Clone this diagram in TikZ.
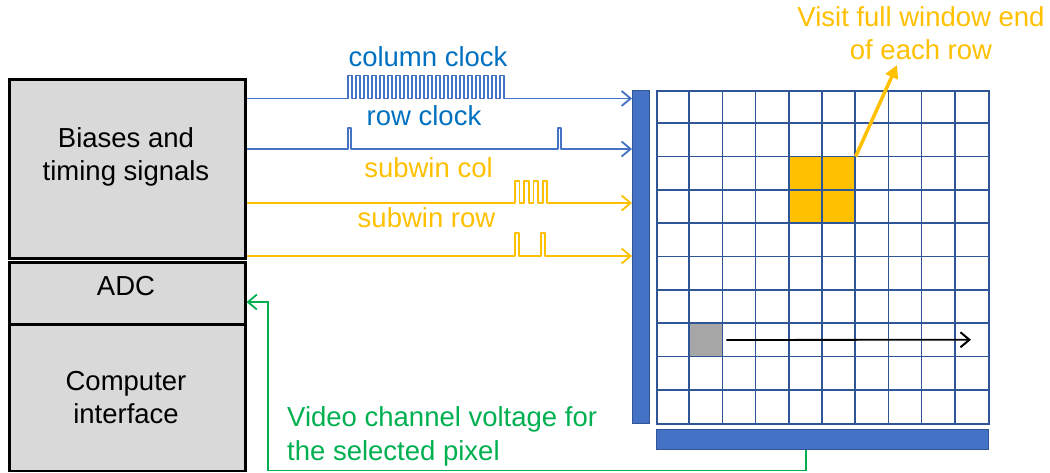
\documentclass[tikz,border=0pt]{standalone}
\usepackage{fontspec}
\setmainfont{Liberation Sans}
\usetikzlibrary{arrows.meta}
\definecolor{sigblue}{HTML}{4472C4}
\definecolor{txtblue}{HTML}{0070C0}
\definecolor{gold}{HTML}{FFC000}
\definecolor{vgreen}{HTML}{00B050}
\definecolor{gridblue}{HTML}{2F5597}
\definecolor{boxgray}{HTML}{D9D9D9}
\definecolor{cellgray}{HTML}{A6A6A6}
\begin{document}
\begin{tikzpicture}[x=1pt,y=-1pt,
  lbl/.style={font=\fontsize{27.5}{33}\selectfont, inner sep=0pt},
  box/.style={draw=black, line width=2.5pt, fill=boxgray, inner sep=0pt, anchor=north west},
  bar/.style={draw=gridblue, line width=1pt, fill=sigblue, inner sep=0pt, anchor=north west},
  cell/.style={inner sep=0pt, anchor=north west, minimum width=33.2pt, minimum height=33.3pt},
  sig/.style={line width=1.8pt, line join=round, -{Straight Barb[length=9pt,width=15pt,line width=1.8pt]}},
  gridline/.style={draw=gridblue, line width=1.7pt},
  scan/.style={line width=1.8pt, -{Straight Barb[length=9pt,width=15pt,line width=2pt]}},
  vid/.style={draw=vgreen, line width=1.6pt, -{Straight Barb[length=9pt,width=15pt,line width=1.8pt]}},
  note/.style={draw=gold, line width=3.5pt, -{Triangle[length=13pt,width=13pt]}},
]
\useasboundingbox (0,0) rectangle (1050,472);

% left blocks
\node[box, minimum width=236pt, minimum height=179pt] (bias) at (8,78) {};
\node[box, minimum width=236pt, minimum height=62pt] (adc) at (8,261) {};
\node[box, minimum width=236pt, minimum height=146.5pt] (comp) at (8,323) {};
\node[lbl, align=center, anchor=north] (biastxt) at (126,127) {Biases and\\timing signals};
\node[lbl, anchor=base] (adctxt) at (126,295) {ADC};
\node[lbl, align=center, anchor=north] (comptxt) at (126,371) {Computer\\interface};

% pixel array
\node[bar, minimum width=17pt, minimum height=333pt] (lbar) at (632,90) {};
\node[bar, minimum width=332pt, minimum height=20pt] (bbar) at (656,429) {};
\node[inner sep=0pt, anchor=north west, minimum width=66.4pt, minimum height=66.6pt, fill=gold] (win) at (788.8,156.6) {};
\node[cell, fill=cellgray] (px) at (689.2,323.1) {};
\foreach \i in {1,...,9} {
  \draw[gridline] (656+\i*33.2,90) -- ++(0,333);
  \draw[gridline] (656,90+\i*33.3) -- ++(332,0);
}
\node[draw=gridblue, line width=1.7pt, inner sep=0pt, anchor=north west, minimum width=332pt, minimum height=333pt] (array) at (656,90) {};

% scan arrow
\coordinate (scanend) at (971,339.75);
\draw[scan] ([xshift=3.6pt]px.east) -- (scanend);

% signals
\draw[sig, draw=sigblue] (bias.east |- 0,98.5) -- (348,98.5)
  \foreach \i in {1,...,20} { -- ++(0,-23) -- ++(4,0) -- ++(0,23) -- ++(4,0) }
  -- (lbar.west |- 0,98.5);
\draw[sig, draw=sigblue] (bias.east |- 0,149) -- (348,149) -- ++(0,-21) -- ++(3,0) -- ++(0,21)
  -- (558,149) -- ++(0,-21) -- ++(3,0) -- ++(0,21) -- (lbar.west |- 0,149);
\draw[sig, draw=gold] (bias.east |- 0,203) -- (515,203)
  \foreach \i in {1,...,4} { -- ++(0,-22) -- ++(4.5,0) -- ++(0,22) -- ++(4.75,0) }
  -- (lbar.west |- 0,203);
\draw[sig, draw=gold] (bias.east |- 0,256) -- (515,256) -- ++(0,-23) -- ++(4,0) -- ++(0,23)
  -- (541,256) -- ++(0,-23) -- ++(4,0) -- ++(0,23) -- (lbar.west |- 0,256);

\node[lbl, anchor=base, text=txtblue] (colclk) at (428,66) {column clock};
\node[lbl, anchor=base, text=txtblue] (rowclk) at (424,125) {row clock};
\node[lbl, anchor=base, text=gold] (swcol) at (428.5,177) {subwin col};
\node[lbl, anchor=base, text=gold] (swrow) at (426.5,227) {subwin row};

% annotation
\node[lbl, align=center, anchor=north, text=gold] (visit) at (921,6) {Visit full window end\\of each row};
\coordinate (tip) at (897,65);
\draw[note] (win.north east) -- (tip);

% video channel
\draw[vid] (bbar.south -| 806,0) -- (806,470.5) -- (268,470.5) -- (268,302) -- (adc.east |- 0,302);
\node[lbl, align=left, anchor=north west, text=vgreen] (video) at (287,406) {Video channel voltage for\\[1pt]the selected pixel};
\end{tikzpicture}
\end{document}
